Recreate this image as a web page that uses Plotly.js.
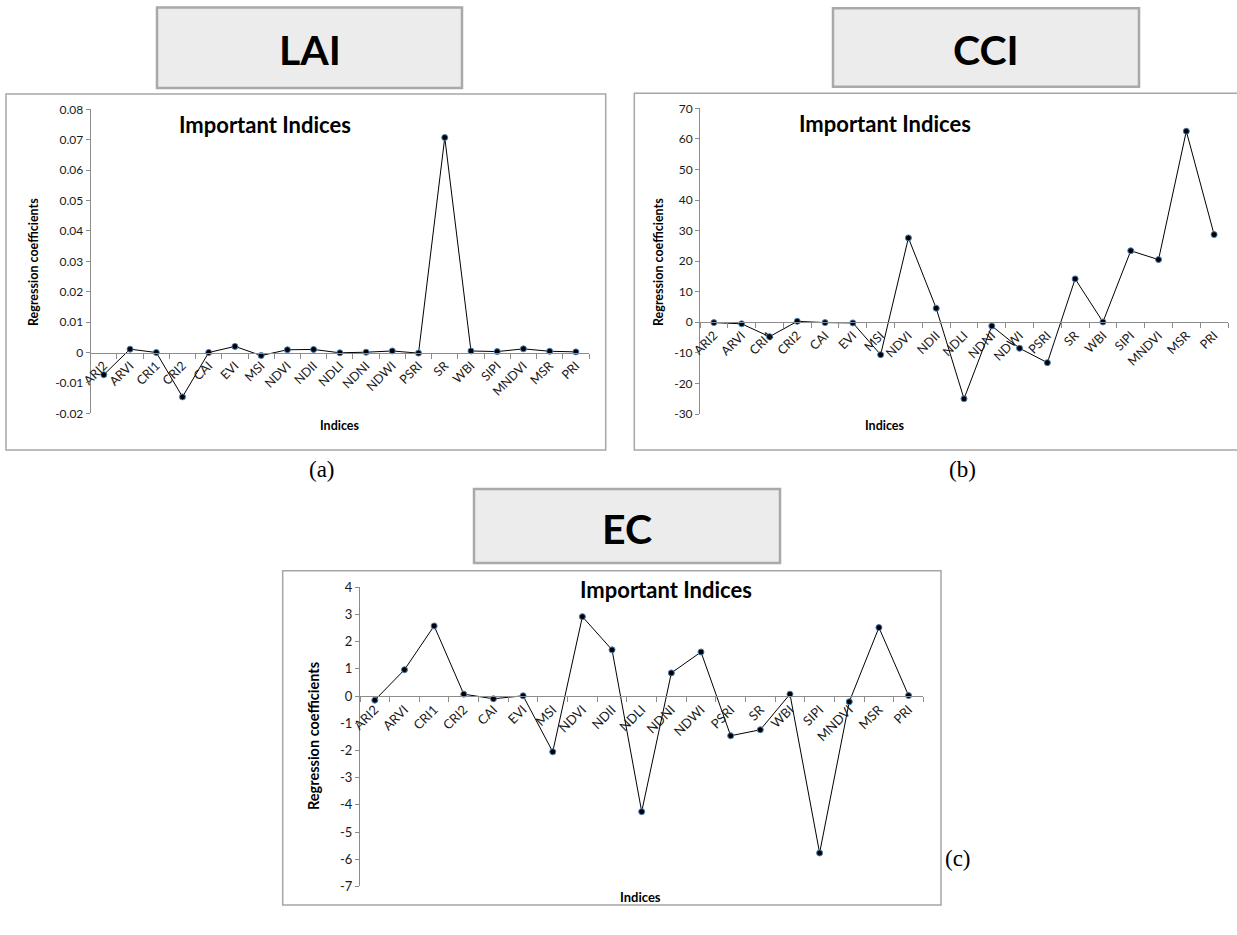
<!DOCTYPE html>
<html>
<head>
<meta charset="utf-8">
<script src="https://cdn.plot.ly/plotly-3.0.1.min.js"></script>
<style>html,body{margin:0;padding:0;background:#fff;}#chart{width:1237px;height:935px;}</style>
</head>
<body>
<div id="chart"></div>
<script>
// ---------- data ----------
var categories = ['ARI2','ARVI','CRI1','CRI2','CAI','EVI','MSI','NDVI','NDII','NDLI','NDNI','NDWI','PSRI','SR','WBI','SIPI','MNDVI','MSR','PRI'];

var laiValues = [-0.0073, 0.0011, 0.0, -0.0146, 0.0, 0.0020, -0.0010, 0.0009, 0.0010, -0.0001, 0.0001, 0.0005, -0.0002, 0.0707, 0.0005, 0.0003, 0.0012, 0.0004, 0.0002];
var cciValues = [-0.1, -0.5, -4.7, 0.3, -0.1, -0.2, -10.6, 27.6, 4.6, -25.0, -1.2, -8.5, -13.2, 14.2, 0.1, 23.4, 20.5, 62.5, 28.7];
var ecValues  = [-0.15, 0.97, 2.58, 0.07, -0.10, 0.01, -2.05, 2.92, 1.70, -4.25, 0.85, 1.62, -1.46, -1.24, 0.07, -5.77, -0.21, 2.52, 0.02];

var laiTickVals = [-0.02, -0.01, 0, 0.01, 0.02, 0.03, 0.04, 0.05, 0.06, 0.07, 0.08];
var laiTickText = ['-0.02', '-0.01', '0', '0.01', '0.02', '0.03', '0.04', '0.05', '0.06', '0.07', '0.08'];
var cciTickVals = [-30, -20, -10, 0, 10, 20, 30, 40, 50, 60, 70];
var cciTickText = ['-30', '-20', '-10', '0', '10', '20', '30', '40', '50', '60', '70'];
var ecTickVals = [-7, -6, -5, -4, -3, -2, -1, 0, 1, 2, 3, 4];
var ecTickText = ['-7', '-6', '-5', '-4', '-3', '-2', '-1', '0', '1', '2', '3', '4'];

var panelNames = ['LAI', 'CCI', 'EC'];
var panelLetters = ['(a)', '(b)', '(c)'];
var chartTitle = 'Important Indices';
var xTitle = 'Indices';
var yTitle = 'Regression coefficients';

// ---------- layout helpers (pixel -> paper) ----------
var W = 1237, H = 935;
function px(x) { return x / W; }
function py(y) { return 1 - y / H; }

// plot areas in pixels [left, right, top, bottom]
var areas = [
  [90.7, 589, 109.3, 413.3],
  [700, 1228, 108.3, 414],
  [360, 923.4, 587.3, 886.4]
];
var ranges = [[-0.02, 0.08], [-30, 70], [-7, 4]];
var tickVals = [laiTickVals, cciTickVals, ecTickVals];
var tickText = [laiTickText, cciTickText, ecTickText];
var series = [laiValues, cciValues, ecValues];
var yFontSizes = [12, 12, 13];
var xFontSizes = [12.5, 12.5, 13];

var FONT = 'Lato, "Open Sans", "DejaVu Sans", sans-serif';
var AXIS_GREY = '#8c8c8c';

var data = [];
var layout = {
  width: W, height: H,
  margin: {l: 0, r: 0, t: 0, b: 0},
  paper_bgcolor: '#ffffff',
  plot_bgcolor: 'rgba(0,0,0,0)',
  showlegend: false,
  shapes: [],
  annotations: []
};

for (var i = 0; i < 3; i++) {
  var sfx = i === 0 ? '' : String(i + 1);
  var a = areas[i];
  var yDom = [py(a[3]), py(a[2])];
  var r = ranges[i];
  var zeroPos = yDom[0] + (0 - r[0]) / (r[1] - r[0]) * (yDom[1] - yDom[0]);

  data.push({
    type: 'scatter', mode: 'lines+markers',
    x: categories, y: series[i],
    xaxis: 'x' + sfx, yaxis: 'y' + sfx,
    line: {color: '#000000', width: 1},
    marker: {color: '#000000', size: 6, line: {color: '#4a7ebb', width: 1}},
    cliponaxis: false,
    hoverinfo: 'x+y'
  });

  layout['xaxis' + sfx] = {
    domain: [px(a[0]), px(a[1])],
    anchor: 'free', position: zeroPos,
    type: 'category',
    range: [-0.5, categories.length - 0.5],
    showline: true, linecolor: AXIS_GREY, linewidth: 1,
    ticks: 'outside', tickson: 'boundaries', ticklen: 5, tickcolor: AXIS_GREY,
    tickangle: -45,
    tickfont: {family: FONT, size: xFontSizes[i], color: '#1a1a1a'},
    showgrid: false, zeroline: false, fixedrange: true
  };
  layout['yaxis' + sfx] = {
    domain: yDom,
    anchor: 'x' + sfx,
    range: r,
    tickmode: 'array', tickvals: tickVals[i], ticktext: tickText[i],
    showline: true, linecolor: AXIS_GREY, linewidth: 1,
    ticks: 'outside', ticklen: 4, tickcolor: AXIS_GREY,
    tickfont: {family: FONT, size: yFontSizes[i], color: '#1a1a1a'},
    showgrid: false, zeroline: false, fixedrange: true
  };
}

// chart frames
var frames = [[6, 605.7, 94, 450], [634.3, 1240, 93.3, 450], [282.7, 941, 570.7, 905]];
frames.forEach(function (f) {
  layout.shapes.push({type: 'rect', xref: 'paper', yref: 'paper',
    x0: px(f[0]), x1: px(f[1]), y0: py(f[3]), y1: py(f[2]),
    line: {color: '#a6a6a6', width: 1.5}, fillcolor: 'rgba(0,0,0,0)', layer: 'below'});
});

// panel name boxes
var boxes = [[157, 462, 7.5, 88], [833, 1139, 8.3, 86.7], [474, 780, 489, 563]];
boxes.forEach(function (b, k) {
  layout.shapes.push({type: 'rect', xref: 'paper', yref: 'paper',
    x0: px(b[0]), x1: px(b[1]), y0: py(b[3]), y1: py(b[2]),
    line: {color: '#a9a9a9', width: 2.5}, fillcolor: '#ececec', layer: 'below'});
  layout.annotations.push({xref: 'paper', yref: 'paper',
    x: px((b[0] + b[1]) / 2), y: py((b[2] + b[3]) / 2 + 2),
    text: '<b>' + panelNames[k] + '</b>', showarrow: false,
    xanchor: 'center', yanchor: 'middle',
    font: {family: FONT, size: 41, color: '#000000'}});
});

// chart titles
var titlePos = [[265, 125], [885, 123], [666, 589]];
titlePos.forEach(function (p) {
  layout.annotations.push({xref: 'paper', yref: 'paper', x: px(p[0]), y: py(p[1]),
    text: '<b>' + chartTitle + '</b>', showarrow: false, xanchor: 'center', yanchor: 'middle',
    font: {family: FONT, size: 22, color: '#000000'}});
});

// axis titles
var xTitlePos = [[340, 425], [885, 426], [641, 897]];
var yTitlePos = [[33, 262], [658, 262], [313, 736]];
var yTitleSizes = [12.5, 12.5, 14.5];
var xTitleSizes = [12.5, 12.5, 13];
for (var k = 0; k < 3; k++) {
  layout.annotations.push({xref: 'paper', yref: 'paper', x: px(xTitlePos[k][0]), y: py(xTitlePos[k][1]),
    text: '<b>' + xTitle + '</b>', showarrow: false, xanchor: 'center', yanchor: 'middle',
    font: {family: FONT, size: xTitleSizes[k], color: '#000000'}});
  layout.annotations.push({xref: 'paper', yref: 'paper', x: px(yTitlePos[k][0]), y: py(yTitlePos[k][1]),
    text: '<b>' + yTitle + '</b>', showarrow: false, xanchor: 'center', yanchor: 'middle', textangle: -90,
    font: {family: FONT, size: yTitleSizes[k], color: '#000000'}});
}

// panel letters
var letterPos = [[322, 469], [962, 469], [958, 858]];
letterPos.forEach(function (p, k) {
  layout.annotations.push({xref: 'paper', yref: 'paper', x: px(p[0]), y: py(p[1]),
    text: panelLetters[k], showarrow: false, xanchor: 'center', yanchor: 'middle',
    font: {family: '"Liberation Serif", "Times New Roman", serif', size: 23, color: '#000000'}});
});

Plotly.newPlot('chart', data, layout, {displayModeBar: false, staticPlot: true});
</script>
</body>
</html>
